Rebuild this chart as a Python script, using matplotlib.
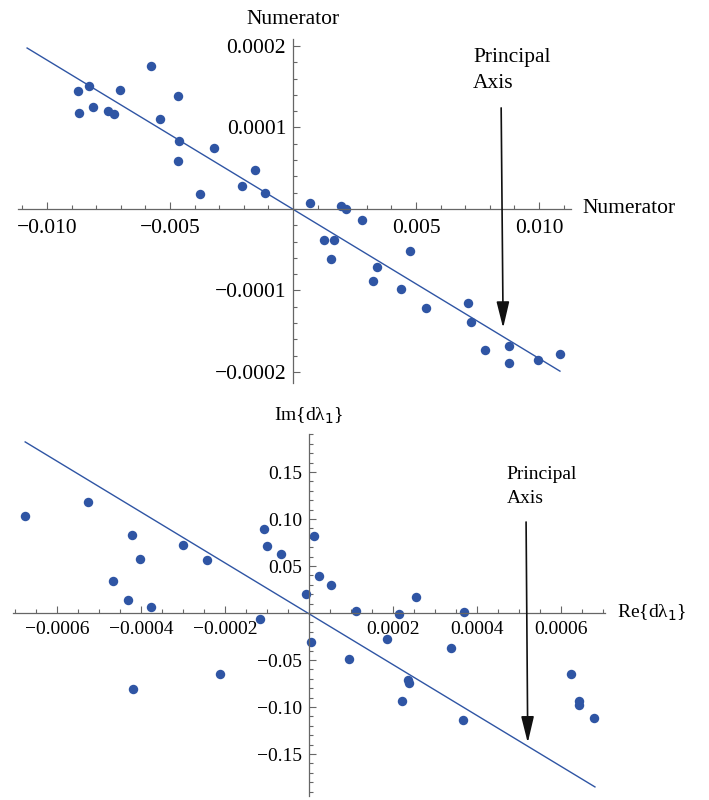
import matplotlib.pyplot as plt
from matplotlib.ticker import MultipleLocator, FixedLocator, FuncFormatter

plt.rcParams['font.family'] = ['Liberation Serif', 'DejaVu Serif']

# top panel: numerator scatter
num_x = [-0.00874, -0.00829, -0.00870, -0.00813, -0.00752, -0.00728, -0.00703,
         -0.00577, -0.00467, -0.00541, -0.00463, -0.00467, -0.00321, -0.00378,
         -0.00207, -0.00154, -0.00114, 0.00069, 0.00195, 0.00215, 0.00126,
         0.00167, 0.00154, 0.00280, 0.00476, 0.00341, 0.00325, 0.00439,
         0.00541, 0.00711, 0.00724, 0.00780, 0.00878, 0.00878, 0.00996, 0.01085]
num_y = [0.0001448, 0.0001509, 0.0001178, 0.0001252, 0.0001202, 0.0001166,
         0.0001460, 0.0001755, 0.0001387, 0.0001104, 0.0000834, 0.0000589,
         0.0000748, 0.0000184, 0.0000282, 0.0000479, 0.0000196, 0.0000074,
         0.0000037, 0.0, -0.0000380, -0.0000380, -0.0000613, -0.0000135,
         -0.0000515, -0.0000712, -0.0000883, -0.0000982, -0.0001215, -0.0001153,
         -0.0001387, -0.0001730, -0.0001681, -0.0001890, -0.0001853, -0.0001779]
num_axis_x = [-0.01081, 0.01085]
num_axis_y = [0.0001975, -0.000199]

# bottom panel: d lambda_1 scatter
re_dl = [-0.000676, -0.000526, -0.000467, -0.000431, -0.000421, -0.000402,
         -0.000376, -0.000300, -0.000243, -0.000107, -0.000100, -0.0000667,
         -0.0000071, 0.0000119, 0.0000238, 0.0000524, 0.000112, -0.000117,
         0.0000048, 0.0000952, -0.000419, -0.000212, 0.000214, 0.000255,
         0.000369, 0.000186, 0.000338, 0.000236, 0.000238, 0.000221,
         0.000367, 0.000624, 0.000643, 0.000643, 0.000679]
im_dl = [0.1032, 0.1181, 0.0340, 0.0138, 0.0830, 0.0574, 0.0064, 0.0723,
         0.0564, 0.0894, 0.0713, 0.0628, 0.0202, 0.0819, 0.0394, 0.0298,
         0.0021, -0.0064, -0.0309, -0.0489, -0.0809, -0.0649, -0.0011, 0.0170,
         0.0011, -0.0277, -0.0372, -0.0713, -0.0745, -0.0936, -0.1138, -0.0649,
         -0.0936, -0.0979, -0.1117]
dl_axis_x = [-0.000676, 0.000681]
dl_axis_y = [0.182, -0.185]

pt_color = '#2f55a4'
line_color = '#2f55a4'
axis_color = '#666666'
minus = '\u2212'
arrow_props = dict(arrowstyle='-|>,head_length=1.15,head_width=0.28',
                   color='#111111', lw=1.2, shrinkA=0, shrinkB=0,
                   mutation_scale=14)


def fmt(decimals):
    def f(v, pos):
        s = f"{abs(v):.{decimals}f}"
        return (minus + s) if v < 0 else s
    return f


def setup_axes(ax):
    for side in ['top', 'right']:
        ax.spines[side].set_visible(False)
    ax.spines['left'].set_position(('data', 0))
    ax.spines['bottom'].set_position(('data', 0))
    for side in ['left', 'bottom']:
        ax.spines[side].set_color(axis_color)
        ax.spines[side].set_linewidth(0.9)
    ax.tick_params(which='both', direction='in', color=axis_color, width=0.8)
    ax.tick_params(which='major', length=5)
    ax.tick_params(which='minor', length=3)
    ax.patch.set_alpha(0)


fig = plt.figure(figsize=(7.09, 8), dpi=100)

# ---- top
ax1 = fig.add_axes([0.0247, 0.5218, 0.7807, 0.4299])
setup_axes(ax1)
ax1.set_xlim(-0.0112, 0.0113)
ax1.set_ylim(-0.000213, 0.000209)
ax1.plot(num_axis_x, num_axis_y, color=line_color, lw=1.0)
ax1.plot(num_x, num_y, 'o', color=pt_color, ms=6.8, mec='none', clip_on=False)
ax1.xaxis.set_major_locator(FixedLocator([-0.010, -0.005, 0.005, 0.010]))
ax1.xaxis.set_minor_locator(MultipleLocator(0.001))
ax1.yaxis.set_major_locator(FixedLocator([-0.0002, -0.0001, 0.0001, 0.0002]))
ax1.yaxis.set_minor_locator(MultipleLocator(0.00002))
ax1.xaxis.set_major_formatter(FuncFormatter(fmt(3)))
ax1.yaxis.set_major_formatter(FuncFormatter(fmt(4)))
ax1.tick_params(axis='x', which='major', labelsize=15.5, pad=7)
ax1.tick_params(axis='y', which='major', labelsize=15.5, pad=5)
ax1.text(0, 0.000232, 'Numerator', fontsize=15.5, ha='center', va='center')
ax1.text(0.01176, 0.0, 'Numerator', fontsize=15.5, ha='left', va='center')
ax1.text(0.00732, 0.000197, 'Principal\nAxis', fontsize=15.5, ha='left', va='top',
         linespacing=1.5)
ax1.annotate('', xy=(0.00854, -0.000146), xytext=(0.00846, 0.000124),
             arrowprops=arrow_props)

# ---- bottom
ax2 = fig.add_axes([0.01834, 0.0046, 0.835, 0.4524])
setup_axes(ax2)
ax2.set_xlim(-0.000705, 0.000705)
ax2.set_ylim(-0.195, 0.19)
ax2.plot(dl_axis_x, dl_axis_y, color=line_color, lw=1.0)
ax2.plot(re_dl, im_dl, 'o', color=pt_color, ms=6.8, mec='none', clip_on=False)
ax2.xaxis.set_major_locator(FixedLocator([-0.0006, -0.0004, -0.0002, 0.0002, 0.0004, 0.0006]))
ax2.xaxis.set_minor_locator(MultipleLocator(0.00005))
ax2.yaxis.set_major_locator(FixedLocator([-0.15, -0.10, -0.05, 0.05, 0.10, 0.15]))
ax2.yaxis.set_minor_locator(MultipleLocator(0.01))
ax2.xaxis.set_major_formatter(FuncFormatter(fmt(4)))
ax2.yaxis.set_major_formatter(FuncFormatter(fmt(2)))
ax2.tick_params(axis='x', which='major', labelsize=14, pad=6)
ax2.tick_params(axis='y', which='major', labelsize=14, pad=5)
ax2.text(0, 0.21, 'Im{d\u03bb$_1$}', fontsize=14, ha='center', va='center')
ax2.text(0.000733, 0.0, 'Re{d\u03bb$_1$}', fontsize=14, ha='left', va='center')
ax2.text(0.000471, 0.156, 'Principal\nAxis', fontsize=14, ha='left', va='top',
         linespacing=1.5)
ax2.annotate('', xy=(0.000521, -0.138), xytext=(0.000517, 0.0968),
             arrowprops=arrow_props)

fig.savefig('out.png', dpi=100)
